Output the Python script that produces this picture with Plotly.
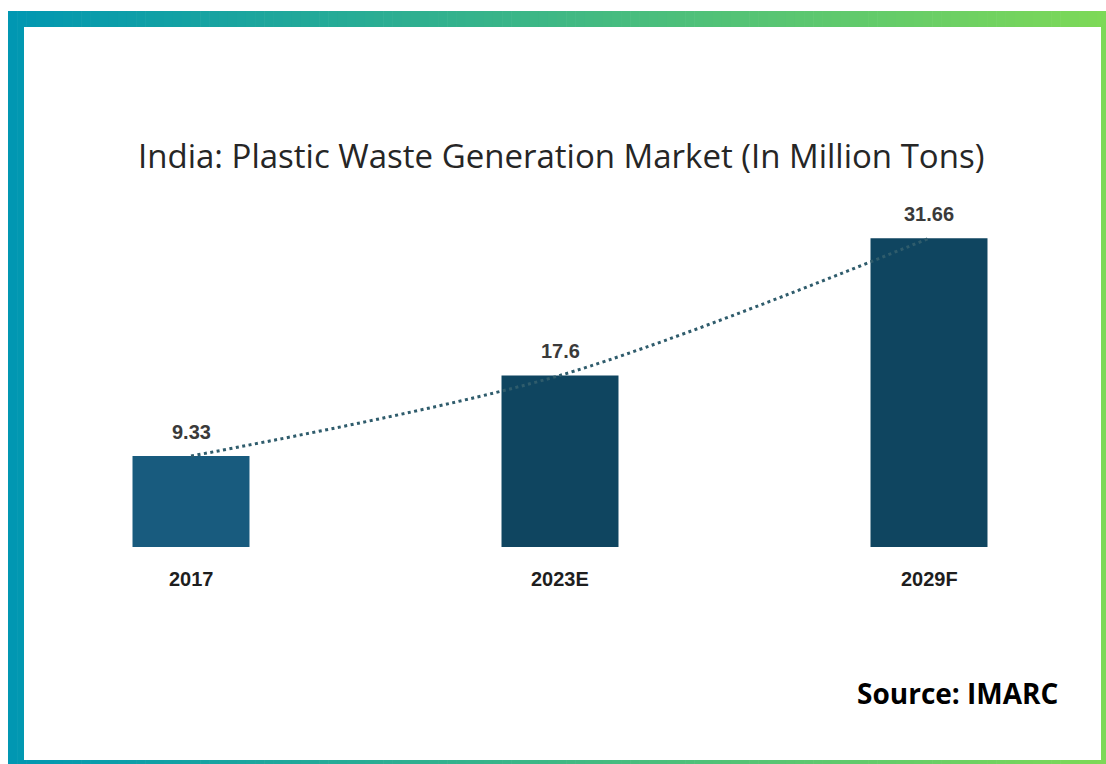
import plotly.graph_objects as go

# Chart data
categories = ["2017", "2023E", "2029F"]
values = [9.33, 17.6, 31.66]
value_labels = ["9.33", "17.6", "31.66"]
bar_colors = ["#185b7e", "#0f4560", "#0f4560"]

W, H = 1106, 764

fig = go.Figure()

fig.add_trace(go.Bar(
    x=categories, y=values,
    marker=dict(color=bar_colors, line=dict(width=0)),
    width=0.317,
    hoverinfo="skip",
))

# Trend line through the bar tops
fig.add_trace(go.Scatter(
    x=categories, y=values,
    mode="lines",
    line=dict(color="#2f5c6c", width=3, dash="3px,3.5px", shape="spline", smoothing=0.9),
    hoverinfo="skip",
))

annotations = []
for i, (c, v, lab) in enumerate(zip(categories, values, value_labels)):
    annotations.append(dict(
        x=i, y=v, xref="x", yref="y", text=lab, showarrow=False,
        yanchor="bottom", yshift=11,
        font=dict(family="Liberation Sans, Arial", size=20, color="#3a3a3a", weight="bold"),
    ))
    annotations.append(dict(
        x=i, y=0, xref="x", yref="y", text=c, showarrow=False,
        yanchor="top", yshift=-19,
        font=dict(family="Liberation Sans, Arial", size=20, color="#1e1e1e", weight="bold"),
    ))

annotations.append(dict(
    x=561 / W, y=1 - 155 / H, xref="paper", yref="paper",
    text="India: Plastic Waste Generation Market (In Million Tons)",
    showarrow=False, xanchor="center", yanchor="middle",
    font=dict(family="Open Sans", size=33, color="#262626"),
))
annotations.append(dict(
    x=1060 / W, y=1 - 693 / H, xref="paper", yref="paper",
    text="Source: IMARC", showarrow=False, xanchor="right", yanchor="middle",
    font=dict(family="Open Sans", size=28, color="#000000", weight="bold"),
))

# Gradient frame: horizontal strips from teal to green, with a white panel inside
shapes = []
c0 = (0, 151, 178)
c1 = (126, 217, 87)
x_left, x_right = 8, W
n = 120
step = (x_right - x_left) / n
for i in range(n):
    t = (i + 0.5) / n
    col = "rgb({},{},{})".format(*[round(a + (b - a) * t) for a, b in zip(c0, c1)])
    xa = x_left + i * step
    xb = xa + step + 0.6
    shapes.append(dict(
        type="rect", xref="paper", yref="paper", layer="below",
        x0=xa / W, x1=min(xb, W) / W, y0=0, y1=1 - 11 / H,
        fillcolor=col, line=dict(width=0),
    ))
shapes.append(dict(
    type="rect", xref="paper", yref="paper", layer="below",
    x0=24 / W, x1=1101 / W, y0=1 - 760 / H, y1=1 - 27 / H,
    fillcolor="#ffffff", line=dict(width=0),
))

# Axis ranges: category centres at 191/560/929 px, zero line at 547 px
px_per_cat = 369.0
x0_cat = 191.0
px_per_unit = 9.75
y_zero = 547.0

fig.update_layout(
    width=W, height=H,
    margin=dict(l=0, r=0, t=0, b=0),
    paper_bgcolor="#ffffff", plot_bgcolor="rgba(0,0,0,0)",
    showlegend=False,
    xaxis=dict(
        type="category", visible=False, fixedrange=True,
        range=[-x0_cat / px_per_cat, (W - x0_cat) / px_per_cat],
    ),
    yaxis=dict(
        visible=False, fixedrange=True,
        range=[-(H - y_zero) / px_per_unit, y_zero / px_per_unit],
    ),
    annotations=annotations,
    shapes=shapes,
)

fig.write_html("out.html", config={"displayModeBar": False})
